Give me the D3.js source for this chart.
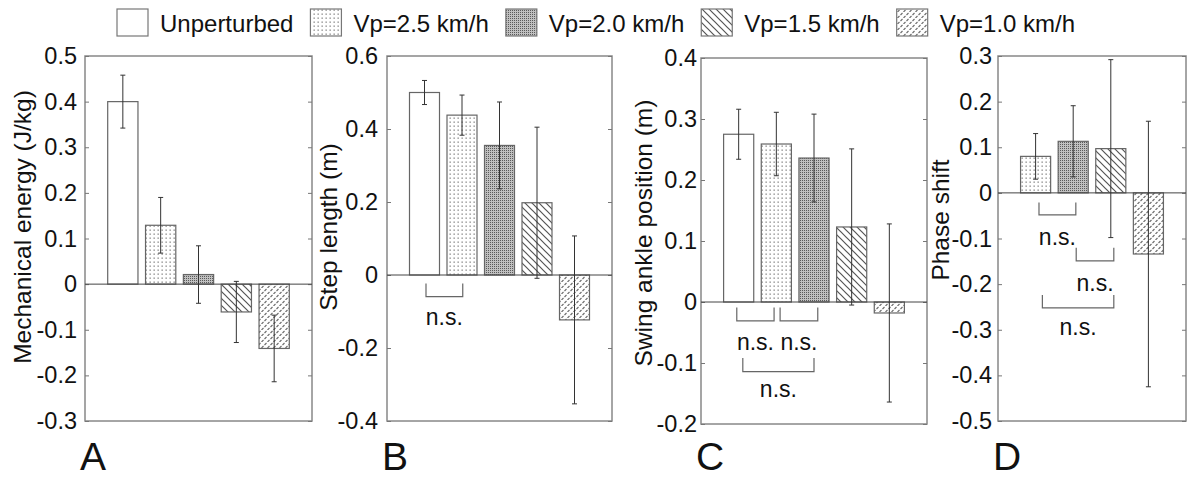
<!DOCTYPE html>
<html>
<head>
<meta charset="utf-8">
<script src="https://cdnjs.cloudflare.com/ajax/libs/d3/7.8.5/d3.min.js"></script>
<style>
  body { margin: 0; background: #fff; }
  text { font-family: "Liberation Sans", Arial, sans-serif; fill: #111; }
</style>
</head>
<body>
<script>
//////// DATA ////////
var categories = ["Unperturbed", "Vp=2.5 km/h", "Vp=2.0 km/h", "Vp=1.5 km/h", "Vp=1.0 km/h"];

var energyMean = [0.400, 0.129, 0.021, -0.061, -0.141];
var energyErr  = [0.058, 0.061, 0.063, 0.067, 0.073];
var energyTicks = [-0.3, -0.2, -0.1, 0, 0.1, 0.2, 0.3, 0.4, 0.5];

var stepMean = [0.500, 0.438, 0.355, 0.198, -0.123];
var stepErr  = [0.033, 0.055, 0.119, 0.207, 0.230];
var stepTicks = [-0.4, -0.2, 0, 0.2, 0.4, 0.6];
// [from, to, bracket top, bracket bottom, text y] in axis units
var stepNs = [[1.04, 2.02, -0.023, -0.059, -0.114]];

var ankleMean = [0.275, 0.259, 0.236, 0.123, -0.018];
var ankleErr  = [0.041, 0.052, 0.072, 0.128, 0.146];
var ankleTicks = [-0.2, -0.1, 0, 0.1, 0.2, 0.3, 0.4];
var ankleNs = [[0.95, 1.94, -0.009, -0.031, -0.065],
               [2.10, 3.10, -0.009, -0.031, -0.065],
               [1.11, 3.00, -0.092, -0.114, -0.143]];

var phaseMean = [null, 0.080, 0.113, 0.097, -0.134];
var phaseErr  = [null, 0.050, 0.078, 0.195, 0.291];
var phaseTicks = [-0.5, -0.4, -0.3, -0.2, -0.1, 0, 0.1, 0.2, 0.3];
var phaseNs = [[1.09, 2.07, -0.021, -0.048, -0.096],
               [2.08, 3.08, -0.120, -0.149, -0.198],
               [1.18, 3.08, -0.224, -0.252, -0.293]];

//////// LAYOUT ////////
var panels = [
	{ letter: "A", title: "Mechanical energy (J/kg)", mean: energyMean, err: energyErr, ticks: energyTicks, ns: [],
	  left: 85, right: 312, top: 56, bottom: 421, xmax: 6, pad: 8, labelX: 31, labelY: 227 },
	{ letter: "B", title: "Step length (m)", mean: stepMean, err: stepErr, ticks: stepTicks, ns: stepNs,
	  left: 387, right: 612, top: 56, bottom: 421, xmax: 6, pad: 9, labelX: 337, labelY: 227 },
	{ letter: "C", title: "Swing ankle position (m)", mean: ankleMean, err: ankleErr, ticks: ankleTicks, ns: ankleNs,
	  left: 701, right: 927, top: 58, bottom: 424, xmax: 6, pad: 4, labelX: 652, labelY: 233 },
	{ letter: "D", title: "Phase shift", mean: phaseMean, err: phaseErr, ticks: phaseTicks, ns: phaseNs,
	  left: 998, right: 1186, top: 56, bottom: 421, xmax: 5, pad: 6, labelX: 949, labelY: 220 }
];

var svg = d3.select("body").append("svg")
	.attr("width", 1188)
	.attr("height", 479);

//////// PATTERNS ////////
var defs = svg.append("defs");

defs.append("pattern").attr("id", "pat0")
	.attr("patternUnits", "userSpaceOnUse").attr("width", 4).attr("height", 4)
	.append("rect").attr("width", 4).attr("height", 4).attr("fill", "#fff");

var p1 = defs.append("pattern").attr("id", "pat1")
	.attr("patternUnits", "userSpaceOnUse").attr("width", 4).attr("height", 4);
p1.append("rect").attr("width", 4).attr("height", 4).attr("fill", "#fff");
p1.append("rect").attr("x", 1.5).attr("y", 1.5).attr("width", 1.3).attr("height", 1.3).attr("fill", "#808080");

var p2 = defs.append("pattern").attr("id", "pat2")
	.attr("patternUnits", "userSpaceOnUse").attr("width", 2).attr("height", 2);
p2.append("rect").attr("width", 2).attr("height", 2).attr("fill", "#c0c0c0");
p2.append("rect").attr("width", 1).attr("height", 1).attr("fill", "#5a5a5a");

var p3 = defs.append("pattern").attr("id", "pat3")
	.attr("patternUnits", "userSpaceOnUse").attr("width", 7).attr("height", 7);
p3.append("rect").attr("width", 7).attr("height", 7).attr("fill", "#fff");
p3.append("path").attr("d", "M0,0L7,7M-1,6L1,8M6,-1L8,1")
	.attr("stroke", "#555").attr("stroke-width", 1.2);

var p4 = defs.append("pattern").attr("id", "pat4")
	.attr("patternUnits", "userSpaceOnUse").attr("width", 6).attr("height", 6);
p4.append("rect").attr("width", 6).attr("height", 6).attr("fill", "#fff");
p4.append("path").attr("d", "M0.5,3L2.5,1M3.5,6L5.5,4")
	.attr("stroke", "#6a6a6a").attr("stroke-width", 1.1);

//////// LEGEND ////////
var lx = 117;
categories.forEach(function(c, i) {
	svg.append("rect")
		.attr("x", lx).attr("y", 9).attr("width", 31).attr("height", 27)
		.attr("fill", "url(#pat" + i + ")")
		.attr("stroke", "#777").attr("stroke-width", 1.2);
	var t = svg.append("text")
		.attr("x", lx + 43).attr("y", 32)
		.style("font-size", "24px")
		.text(c);
	lx += 43 + t.node().getComputedTextLength() + 17;
});

//////// PANELS ////////
panels.forEach(function(p) {

	var y = d3.scaleLinear().domain([p.ticks[0], p.ticks[p.ticks.length - 1]]).range([p.bottom, p.top]);
	var x = d3.scaleLinear().domain([0, p.xmax]).range([p.left, p.right]);
	var g = svg.append("g");

	// frame
	g.append("rect")
		.attr("x", p.left).attr("y", p.top)
		.attr("width", p.right - p.left).attr("height", p.bottom - p.top)
		.attr("fill", "none").attr("stroke", "#888").attr("stroke-width", 1.5);

	// axes (ticks inside)
	var fmt = function(d) { return d === 0 ? "0" : d.toFixed(1); };
	var ya = g.append("g").attr("transform", "translate(" + p.left + ",0)")
		.call(d3.axisLeft(y).tickValues(p.ticks).tickSize(-4).tickPadding(p.pad).tickFormat(fmt));
	ya.select(".domain").remove();
	ya.selectAll("line").attr("stroke", "#777");
	ya.selectAll("text").style("font-size", "23.5px").attr("fill", "#111");

	var yr = g.append("g").attr("transform", "translate(" + p.right + ",0)")
		.call(d3.axisRight(y).tickValues(p.ticks).tickSize(-4).tickFormat(""));
	yr.select(".domain").remove();
	yr.selectAll("line").attr("stroke", "#777");

	// bars
	var bars = p.mean.map(function(v, i) { return { v: v, e: p.err[i], cat: i }; })
		.filter(function(d) { return d.v !== null; });
	bars.forEach(function(d, k) { d.pos = k + 1; });

	g.selectAll(".bar").data(bars).enter().append("rect")
		.attr("class", "bar")
		.attr("x", function(d) { return x(d.pos - 0.4); })
		.attr("width", x(0.8) - x(0))
		.attr("y", function(d) { return y(Math.max(d.v, 0)); })
		.attr("height", function(d) { return Math.abs(y(d.v) - y(0)); })
		.attr("fill", function(d) { return "url(#pat" + d.cat + ")"; })
		.attr("stroke", "#666").attr("stroke-width", 1.2);

	// zero line
	g.append("line")
		.attr("x1", p.left).attr("x2", p.right)
		.attr("y1", y(0)).attr("y2", y(0))
		.attr("stroke", "#444").attr("stroke-width", 1);

	// error bars
	g.selectAll(".err").data(bars).enter().append("path")
		.attr("class", "err")
		.attr("d", function(d) {
			var cx = x(d.pos), t = y(d.v + d.e), b = y(d.v - d.e);
			return "M" + cx + "," + t + "V" + b +
				"M" + (cx - 2.5) + "," + t + "H" + (cx + 2.5) +
				"M" + (cx - 2.5) + "," + b + "H" + (cx + 2.5);
		})
		.attr("fill", "none").attr("stroke", "#333").attr("stroke-width", 1);

	// n.s. brackets
	p.ns.forEach(function(s) {
		g.append("path")
			.attr("d", "M" + x(s[0]) + "," + y(s[2]) + "V" + y(s[3]) + "H" + x(s[1]) + "V" + y(s[2]))
			.attr("fill", "none").attr("stroke", "#666").attr("stroke-width", 1.2);
		g.append("text")
			.attr("x", x((s[0] + s[1]) / 2)).attr("y", y(s[4]))
			.attr("dy", "0.35em").attr("text-anchor", "middle")
			.style("font-size", "23px")
			.text("n.s.");
	});

	// y label
	g.append("text")
		.attr("transform", "translate(" + p.labelX + "," + p.labelY + ") rotate(-90)")
		.attr("text-anchor", "middle")
		.style("font-size", "24.5px")
		.text(p.title);

	// panel letter
	g.append("text")
		.attr("x", p.left - 5).attr("y", 470)
		.style("font-size", "39px")
		.text(p.letter);
});
</script>
</body>
</html>
